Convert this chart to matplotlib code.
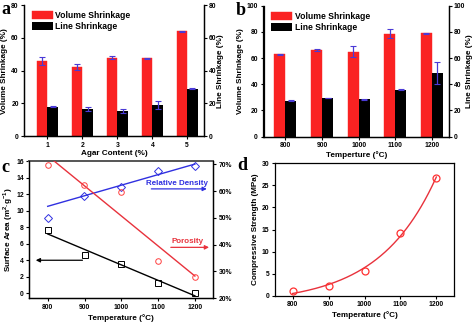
import numpy as np
import matplotlib
matplotlib.use("Agg")
import matplotlib.pyplot as plt

plt.rcParams['font.family'] = ['Liberation Sans', 'DejaVu Sans']
plt.rcParams['font.weight'] = 'bold'
plt.rcParams['axes.labelweight'] = 'bold'
plt.rcParams['axes.linewidth'] = 0.9
plt.rcParams['mathtext.fontset'] = 'custom'
plt.rcParams['mathtext.bf'] = 'Liberation Sans:bold'
plt.rcParams['mathtext.rm'] = 'Liberation Sans:bold'

# ---------------- data ----------------
agar = ['1', '2', '3', '4', '5']
vol_a = [46, 42.5, 48, 47.5, 64]
vol_a_err = [2.5, 1.8, 1.0, 0.5, 0.3]
line_a = [18, 16.5, 15.5, 19, 29]
line_a_err = [0.3, 1.2, 1.2, 2.6, 0.3]

temps_b = ['800', '900', '1000', '1100', '1200']
vol_b = [63, 66, 65, 78.5, 79]
vol_b_err = [0.4, 0.7, 4.0, 3.5, 0.3]
line_b = [27.5, 29.5, 28.5, 36, 48.5]
line_b_err = [0.3, 0.3, 0.6, 0.6, 8.5]

temp = np.array([800, 900, 1000, 1100, 1200])
surface = np.array([7.7, 4.6, 3.6, 1.3, 0.0])
rel_density = np.array([49.9, 58.2, 61.6, 67.4, 69.4])
porosity = np.array([69.7, 62.3, 59.8, 34.0, 27.8])
strength = np.array([1.0, 2.2, 5.6, 14.3, 26.7])

RED = '#fa2222'
ERR = '#4a3ad6'

W, H = 474, 325
fig = plt.figure(figsize=(W / 100, H / 100), dpi=100)


def rect(l, r, t, b):
    return [l / W, 1 - b / H, (r - l) / W, (b - t) / H]


TICK = 4.9
LAB = 5.9


def style(ax):
    ax.tick_params(direction='out', length=2.5, width=0.8, labelsize=TICK, pad=1.5)
    for lab in ax.get_xticklabels() + ax.get_yticklabels():
        lab.set_fontweight('bold')


def bar_panel(ax, cats, vol, vol_err, line, line_err, ymax, xlabel, xlim):
    x = np.arange(len(cats))
    w = 0.3
    ax.bar(x - w / 2, vol, w, color=RED, edgecolor=RED, linewidth=0.3, label='Volume Shrinkage')
    ax.bar(x + w / 2, line, w, color='black', label='Line Shrinkage')
    ax.errorbar(x - w / 2, vol, yerr=vol_err, fmt='none', ecolor=ERR, elinewidth=0.9, capsize=2, capthick=0.8)
    ax.errorbar(x + w / 2, line, yerr=line_err, fmt='none', ecolor=ERR, elinewidth=0.9, capsize=2, capthick=0.8)
    ax.set_xticks(x)
    ax.set_xticklabels(cats)
    ax.set_xlim(*xlim)
    ax.set_ylim(0, ymax)
    ax.set_yticks(np.arange(0, ymax + 1, 20))
    ax.spines['top'].set_visible(False)
    ax.set_xlabel(xlabel, fontsize=LAB, labelpad=1)
    ax.set_ylabel('Volume Shrinkage (%)', fontsize=LAB, labelpad=2)
    ax2 = ax.twinx()
    ax2.set_ylim(0, ymax)
    ax2.set_yticks(np.arange(0, ymax + 1, 20))
    ax2.spines['top'].set_visible(False)
    ax2.set_ylabel('Line Shrinkage (%)', fontsize=LAB, labelpad=0.8)
    style(ax)
    style(ax2)
    ax2.tick_params(pad=1.0)
    ax.legend(loc='upper left', frameon=False, handlelength=2.4, handleheight=1.0,
              handletextpad=0.3, labelspacing=0.25, borderaxespad=0.3, bbox_to_anchor=(0.01, 1.0),
              prop={'weight': 'bold', 'size': 6.2})
    return ax2


# ---------------- panel a ----------------
ax_a = fig.add_axes(rect(24.3, 204, 5, 136.3))
bar_panel(ax_a, agar, vol_a, vol_a_err, line_a, line_a_err, 80, 'Agar Content (%)', (-0.66, 4.48))

# ---------------- panel b ----------------
ax_b = fig.add_axes(rect(263.5, 449, 5.7, 136.7))
bar_panel(ax_b, temps_b, vol_b, vol_b_err, line_b, line_b_err, 100, 'Temperture (\u00b0C)', (-0.6, 4.47))

# ---------------- panel c ----------------
ax_c = fig.add_axes(rect(29.3, 213.3, 161, 298.3))
ax_c.set_xlim(750, 1250)
ax_c.set_ylim(-0.6, 16)
ax_c.set_xticks([800, 900, 1000, 1100, 1200])
ax_c.set_yticks(np.arange(0, 17, 2))
ax_c.spines['top'].set_color('#555555')
ax_c.spines['top'].set_linewidth(1.4)
ax_c.set_xlabel('Temperature (\u00b0C)', fontsize=LAB, labelpad=2)
ax_c.set_ylabel('Surface Area (m$^{\\mathbf{2}}$\u00b7g$^{\\mathbf{-1}}$)', fontsize=LAB, labelpad=1)
ax_c2 = ax_c.twinx()
ax_c2.set_ylim(20, 71.2)
ax_c2.set_yticks([20, 30, 40, 50, 60, 70])
ax_c2.set_yticklabels([f'{v}%' for v in [20, 30, 40, 50, 60, 70]])
ax_c2.spines['top'].set_visible(False)

xf = np.array([800, 1200])
# surface area fit (all points)
p = np.polyfit(temp, surface, 1)
ax_c.plot(xf, np.polyval(p, xf), color='black', lw=1.0)
ax_c.plot(temp, surface, 's', mfc='none', mec='black', ms=4, mew=0.7)
# relative density fit (900-1200)
p = np.polyfit(temp[1:], rel_density[1:], 1)
ax_c2.plot(xf, np.polyval(p, xf), color='#3030e0', lw=1.0)
ax_c2.plot(temp, rel_density, 'D', mfc='none', mec='#3030e0', ms=3.8, mew=0.7)
# porosity fit (all points)
p = np.polyfit(temp, porosity, 1)
ax_c2.plot(xf, np.polyval(p, xf), color='#e8323c', lw=1.0)
ax_c2.plot(temp, porosity, 'o', mfc='none', mec='#ff4040', ms=4, mew=0.7)
ax_c2.set_ylim(20, 71.2)

# annotations
ax_c.annotate('', xy=(760, 4), xytext=(902, 4),
              arrowprops=dict(arrowstyle='-|>', color='black', lw=0.9, mutation_scale=6))
ax_c2.annotate('', xy=(1240, 60.8), xytext=(1074, 60.8),
               arrowprops=dict(arrowstyle='-|>', color='#3030e0', lw=0.9, mutation_scale=6))
ax_c2.text(1152, 61.6, 'Relative Density', color='#3030e0', fontsize=5.8, fontweight='bold',
           ha='center', va='bottom')
ax_c2.annotate('', xy=(1246, 39.0), xytext=(1127, 39.0),
               arrowprops=dict(arrowstyle='-|>', color='#e8323c', lw=0.9, mutation_scale=6))
ax_c2.text(1181, 39.8, 'Porosity', color='#e8323c', fontsize=5.8, fontweight='bold',
           ha='center', va='bottom')
style(ax_c)
style(ax_c2)

# ---------------- panel d ----------------
ax_d = fig.add_axes(rect(274.7, 454.3, 163.3, 295.7))
ax_d.set_xlim(750, 1250)
ax_d.set_ylim(0, 30)
ax_d.set_xticks([800, 900, 1000, 1100, 1200])
ax_d.set_yticks(np.arange(0, 31, 5))
# exponential growth fit y = A*exp(B*(x-800)) + C
best = None
for B in np.linspace(0.001, 0.02, 2000):
    M = np.column_stack([np.exp(B * (temp - 800)), np.ones_like(temp, dtype=float)])
    coef, res, *_ = np.linalg.lstsq(M, strength, rcond=None)
    err = np.sum((M @ coef - strength) ** 2)
    if best is None or err < best[0]:
        best = (err, B, coef)
_, B, (A, C) = best
xs = np.linspace(800, 1200, 200)
ax_d.plot(xs, A * np.exp(B * (xs - 800)) + C, color='#e8323c', lw=1.0)
ax_d.plot(temp, strength, 'o', mfc='none', mec='#ff3030', ms=5, mew=0.9)
ax_d.set_xlabel('Temperature (\u00b0C)', fontsize=LAB, labelpad=2)
ax_d.set_ylabel('Compressive Strength (MPa)', fontsize=LAB, labelpad=2)
style(ax_d)

# panel letters (baseline positions)
for x, y, s in [(1, 14, 'a'), (236, 15, 'b'), (1, 172, 'c'), (237, 170, 'd')]:
    fig.text(x / W, 1 - y / H, s, fontsize=13, fontweight='bold', family='Liberation Serif',
             ha='left', va='baseline')

fig.savefig('out.png', dpi=100)
